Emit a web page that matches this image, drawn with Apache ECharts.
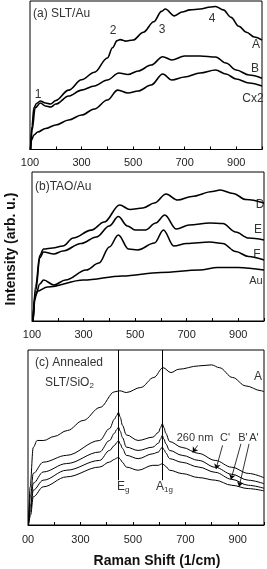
<!DOCTYPE html>
<html lang="en">
<head>
<meta charset="UTF-8">
<title>Raman</title>
<script src="https://cdn.jsdelivr.net/npm/echarts@6/dist/echarts.min.js"></script>
<style>
    html, body { margin: 0; padding: 0; background: #fff; }
    #main { width: 267px; height: 569px; }
</style>
</head>
<body>
<div id="main"></div>
<script>
// tick labels (shared by the three panels)
var tickMin = 100, tickMax = 1000, tickStep = 100;

// (a) SLT/Au
var aShiftA = [102,108,115,125,140,160,180,200,250,300,350,400,420,438,450,470,500,540,580,610,625,660,690,720,760,800,820,850,880,910,940,970,1000];
var aIntA   = [0,16,28,31,32.7,31.3,30.6,33,40,47,52,61.6,68.5,73.3,74,73,73.7,79,86,93,94.6,90,92.6,94,94.6,96,96.3,94,89,83,79,75.8,73.7];
var aShiftB = [102,108,120,140,160,180,200,250,300,350,400,445,480,520,570,615,650,700,760,820,860,900,950,1000];
var aIntB   = [0,13,28,31.3,29.3,28.6,30.6,36,40,42.8,46.8,51.5,50.5,52.9,56.9,62.5,60.3,63,63,62.3,58.2,53.5,50.2,48];
var aShiftC = [102,106,115,130,160,200,250,300,350,400,440,480,520,570,615,650,700,760,820,860,900,950,1000];
var aIntC   = [0,6.4,9.8,11.8,14.1,16.5,19.9,23.2,27.3,33.3,40,38,39.4,43.4,50.8,46.8,48.8,51.5,53.5,50.8,47.5,44.8,42.8];

// (b) TAO/Au
var bShiftD  = [104,115,130,145,180,220,260,330,380,440,480,530,575,620,665,720,800,830,880,930,1000];
var bIntD    = [0,24,44,48.3,49,50.3,55.7,61,66.4,77.9,74.8,75.8,79.2,85.2,81.2,83.6,86.9,87.9,85.6,81.5,79.2];
var bShiftE  = [104,115,130,145,185,220,290,350,400,435,470,500,540,580,615,660,710,790,840,890,940,1000];
var bIntE    = [0,20.8,42.3,46.3,45,47,52,56.4,63.8,70.1,63.8,61.1,61.1,65.8,71.1,61.7,64.4,65.8,65.4,59.7,55.7,54.4];
var bShiftF  = [104,115,130,145,185,230,310,360,400,435,475,510,575,610,650,700,790,840,890,940,1000];
var bIntF    = [0,17.4,24.8,27.5,24.2,27.5,34.2,38.9,49.7,57.7,48.3,47.7,52.3,61.1,50.3,52,53,52,46.6,43.3,40.9];
var bShiftAu = [104,110,120,160,300,450,600,750,820,900,1000];
var bIntAu   = [0,14,20,22.8,27.5,30.2,32.6,34.2,35.9,35.9,34.2];

// (c) Annealed SLT/SiO2
var cShiftA = [102,108,120,135,160,200,250,310,375,430,450,475,530,580,615,645,675,750,800,830,880,930,990,1000];
var cIntA   = [0,21.6,44.3,48.3,48.3,50.6,54,59.7,67.2,76.1,76.7,75.7,78.6,84.3,89.9,87.1,89,90.9,91.5,89.9,84.3,79.5,76.7,76.1];
var cShift  = [102,110,120,158,247,373,411,430,438,445,452,460,475,520,576,598,605,612,619,625,640,688,751,814,877,940,1000];
var cInt260 = [3,17,29.5,35.9,39.8,48.3,55.1,60.5,62.5,64.4,61.5,57,51.5,48.3,50.2,53,55.5,57.8,55.5,52.5,47.7,44.3,40.9,36.9,33,29.5,27];
var cIntCp  = [1,11.4,23.9,30.3,35.1,41.7,48.3,52.5,54.5,55.9,53.5,50,44.5,42.6,44.5,46.8,49,51.1,49,46.5,42.6,39.8,36.9,33,29,25.6,23.6];
var cIntBp  = [0.6,8.5,19.9,25.6,31.3,36.9,42.6,45.5,47,48.3,46.3,43.8,39.8,37.9,40.7,41.7,43.2,44.5,43,41.3,37.9,35.8,33.1,30.1,26.1,22.7,21];
var cIntAp  = [0,5.7,16.1,21.8,27.5,33.1,36,37.5,38.2,38.8,37.5,35.8,33.1,31.3,34.1,34.1,34.6,35.1,34.3,33.5,31.3,29.4,27.1,25.6,22.7,20.8,19.5];

// Eg and A1g mode positions, and the arrows of panel (c)
var modeShift = [445, 612];
var modeBottom = 25.6;
var arrowFrom = [[747,45.5],[842,45.5],[912,46.4],[943,46.4]];
var arrowTo   = [[728,41.5],[817,32],[874,26],[905,21.8]];

function pairs(xs, ys) {
    var out = [];
    for (var i = 0; i < xs.length; i++) out.push([xs[i], ys[i]]);
    return out;
}

var grids = [
    {left: 30, top: 1, width: 232, height: 148.5},
    {left: 32, top: 172, width: 234, height: 149},
    {left: 28, top: 350, width: 237, height: 175}
];

var xAxes = [], yAxes = [];
for (var g = 0; g < 3; g++) {
    grids[g].show = true;
    grids[g].borderColor = '#000';
    grids[g].borderWidth = 1;
    grids[g].containLabel = false;
    xAxes.push({
        type: 'value', gridIndex: g, min: tickMin, max: tickMax, interval: tickStep,
        axisLine: {show: true, lineStyle: {color: '#000', width: 1}},
        axisTick: {show: true, inside: true, length: 3, lineStyle: {color: '#000'}},
        splitLine: {show: false},
        axisLabel: {
            margin: g === 2 ? 9 : 8, color: '#222', fontSize: 11, fontFamily: 'Liberation Sans, Arial',
            formatter: (function (gi) {
                return function (v) {
                    if ((v - tickMin) % 200 !== 0) return '';
                    if (gi === 2 && v === tickMin) return '00';
                    return String(v);
                };
            })(g)
        }
    });
    yAxes.push({
        type: 'value', gridIndex: g, min: 0, max: 100,
        axisLine: {show: false}, axisTick: {show: false},
        axisLabel: {show: false}, splitLine: {show: false}
    });
}

function line(g, xs, ys, w) {
    return {
        type: 'line', xAxisIndex: g, yAxisIndex: g,
        data: pairs(xs, ys), showSymbol: false, symbol: 'none',
        smooth: 0.35, smoothMonotone: 'x',
        lineStyle: {color: '#000', width: w}, silent: true
    };
}

var series = [
    line(0, aShiftA, aIntA, 1.6),
    line(0, aShiftB, aIntB, 1.6),
    line(0, aShiftC, aIntC, 1.6),
    line(1, bShiftD, bIntD, 1.6),
    line(1, bShiftE, bIntE, 1.6),
    line(1, bShiftF, bIntF, 1.6),
    line(1, bShiftAu, bIntAu, 1.6),
    line(2, cShiftA, cIntA, 1),
    line(2, cShift, cInt260, 1),
    line(2, cShift, cIntCp, 1),
    line(2, cShift, cIntBp, 1),
    line(2, cShift, cIntAp, 1)
];

// vertical mode lines
series[7].markLine = {
    silent: true, symbol: 'none', animation: false,
    label: {show: false},
    lineStyle: {color: '#000', width: 1, type: 'solid'},
    data: modeShift.map(function (m) {
        return [{coord: [m, 100]}, {coord: [m, modeBottom]}];
    })
};
// arrows to the thin curves
series[8].markLine = {
    silent: true, symbol: ['none', 'arrow'], symbolSize: 5, animation: false,
    label: {show: false},
    lineStyle: {color: '#000', width: 0.8, type: 'solid'},
    data: arrowFrom.map(function (p, i) {
        return [{coord: p}, {coord: arrowTo[i]}];
    })
};

var FONT = 'Liberation Sans, Arial';
function txt(x, y, s, size, extra) {
    var o = {
        type: 'text', x: x, y: y, silent: true,
        style: {text: s, fill: '#333', font: (size || 12) + 'px ' + FONT, align: 'center', verticalAlign: 'middle'}
    };
    if (extra) for (var k in extra) o.style[k] = extra[k];
    return o;
}
function subText(x, y, main, sub) {
    return {
        type: 'text', x: x, y: y, silent: true,
        style: {
            text: '{n|' + main + '}{s|' + sub + '}', align: 'left', verticalAlign: 'middle', fill: '#333',
            rich: {
                n: {fontSize: 12, fontFamily: FONT, lineHeight: 14, fill: '#333'},
                s: {fontSize: 8, fontFamily: FONT, lineHeight: 8, verticalAlign: 'bottom', fill: '#333'}
            }
        }
    };
}

var graphics = [
    txt(33, 14, '(a) SLT/Au', 12, {align: 'left'}),
    txt(38, 95, '1'), txt(113, 31, '2'), txt(162, 30, '3'), txt(212, 19, '4'),
    txt(256, 45, 'A'), txt(255, 69, 'B'), txt(253, 99, 'Cx2'),
    txt(35, 187, '(b)TAO/Au', 12, {align: 'left'}),
    txt(260, 205, 'D'), txt(258, 230, 'E'), txt(257, 255, 'F'), txt(256, 281, 'Au', 11),
    txt(35, 363, '(c) Annealed', 12, {align: 'left'}),
    subText(45, 383, 'SLT/SiO', '2'),
    txt(258, 377, 'A'),
    txt(195, 438, '260 nm', 11), txt(225, 438, "C'", 11), txt(243, 438, "B'", 11), txt(254, 438, "A'", 11),
    subText(117, 487, 'E', 'g'),
    subText(156, 487, 'A', '1g'),
    // axis titles
    {
        type: 'text', x: 11, y: 249, rotation: Math.PI / 2, silent: true,
        style: {text: 'Intensity (arb. u.)', fill: '#111', font: 'bold 14px ' + FONT, align: 'center', verticalAlign: 'middle'}
    },
    txt(157, 561, 'Raman Shift (1/cm)', 14, {font: 'bold 14px ' + FONT, fill: '#111'})
];

var chart = echarts.init(document.getElementById('main'));
chart.setOption({
    animation: false,
    backgroundColor: '#fff',
    grid: grids,
    xAxis: xAxes,
    yAxis: yAxes,
    series: series,
    graphic: graphics
});
</script>
</body>
</html>
